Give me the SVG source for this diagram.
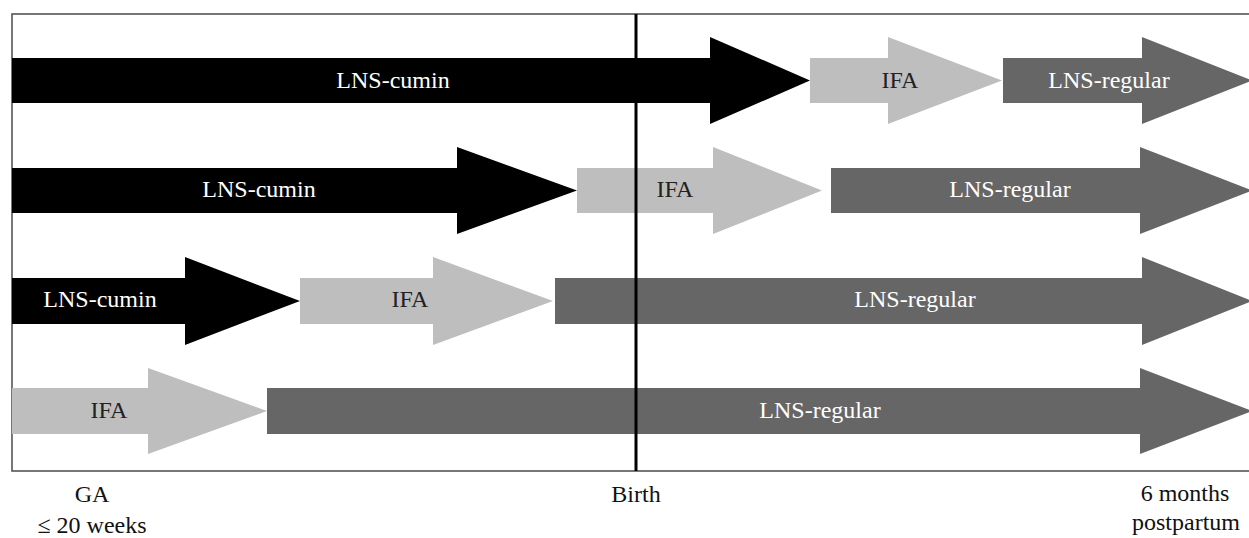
<svg xmlns="http://www.w3.org/2000/svg" width="1249" height="538" viewBox="0 0 1249 538">
<style>
.cumin{fill:#000}
.ifa{fill:#bebebe}
.reg{fill:#666666}
text{font-family:'Liberation Serif','DejaVu Serif',serif;font-size:24px;text-anchor:middle}
.w{fill:#ffffff}
.d{fill:#222222}
.k{fill:#111111}
</style>
<rect id="frame" x="12" y="14" width="1240" height="457" fill="#ffffff" stroke="#555555" stroke-width="1.6"/>
<g id="row1">
<g id="r1-cumin"><polygon class="cumin" points="12,58 710,58 710,37 810,80.5 710,124 710,103 12,103"/><text class="w" x="393" y="88">LNS-cumin</text></g>
<g id="r1-ifa"><polygon class="ifa" points="810,58 888,58 888,37 1002,80.5 888,124 888,103 810,103"/><text class="d" x="900" y="88">IFA</text></g>
<g id="r1-reg"><polygon class="reg" points="1003,58 1142,58 1142,37 1252,80.5 1142,124 1142,103 1003,103"/><text class="w" x="1109" y="88">LNS-regular</text></g>
</g>
<g id="row2">
<g id="r2-cumin"><polygon class="cumin" points="12,168 457,168 457,147 577,190.5 457,234 457,213 12,213"/><text class="w" x="259" y="197">LNS-cumin</text></g>
<g id="r2-ifa"><polygon class="ifa" points="577,168 713,168 713,147 822,190.5 713,234 713,213 577,213"/><text class="d" x="675" y="197">IFA</text></g>
<g id="r2-reg"><polygon class="reg" points="831,168 1140,168 1140,147 1252,190.5 1140,234 1140,213 831,213"/><text class="w" x="1010" y="197">LNS-regular</text></g>
</g>
<g id="row3">
<g id="r3-cumin"><polygon class="cumin" points="12,278 185,278 185,257 300,301 185,345 185,324 12,324"/><text class="w" x="100" y="307">LNS-cumin</text></g>
<g id="r3-ifa"><polygon class="ifa" points="300,278 433,278 433,257 553,301 433,345 433,324 300,324"/><text class="d" x="410" y="307">IFA</text></g>
<g id="r3-reg"><polygon class="reg" points="555,278 1142,278 1142,257 1252,301 1142,345 1142,324 555,324"/><text class="w" x="915" y="307">LNS-regular</text></g>
</g>
<g id="row4">
<g id="r4-ifa"><polygon class="ifa" points="12,388 148,388 148,368 267,411 148,454 148,434 12,434"/><text class="d" x="109" y="418">IFA</text></g>
<g id="r4-reg"><polygon class="reg" points="267,388 1140,388 1140,368 1252,411 1140,454 1140,434 267,434"/><text class="w" x="820" y="418">LNS-regular</text></g>
</g>
<g id="connectors">
<line id="birth-line" x1="636" y1="14" x2="636" y2="471" stroke="#000000" stroke-width="3"/>
</g>
<g id="axis-labels">
<text class="k" x="92" y="502">GA</text>
<text class="k" x="92" y="533">≤ 20 weeks</text>
<text class="k" x="636" y="502">Birth</text>
<text class="k" x="1185" y="501">6 months</text>
<text class="k" x="1186" y="530">postpartum</text>
</g>
</svg>
